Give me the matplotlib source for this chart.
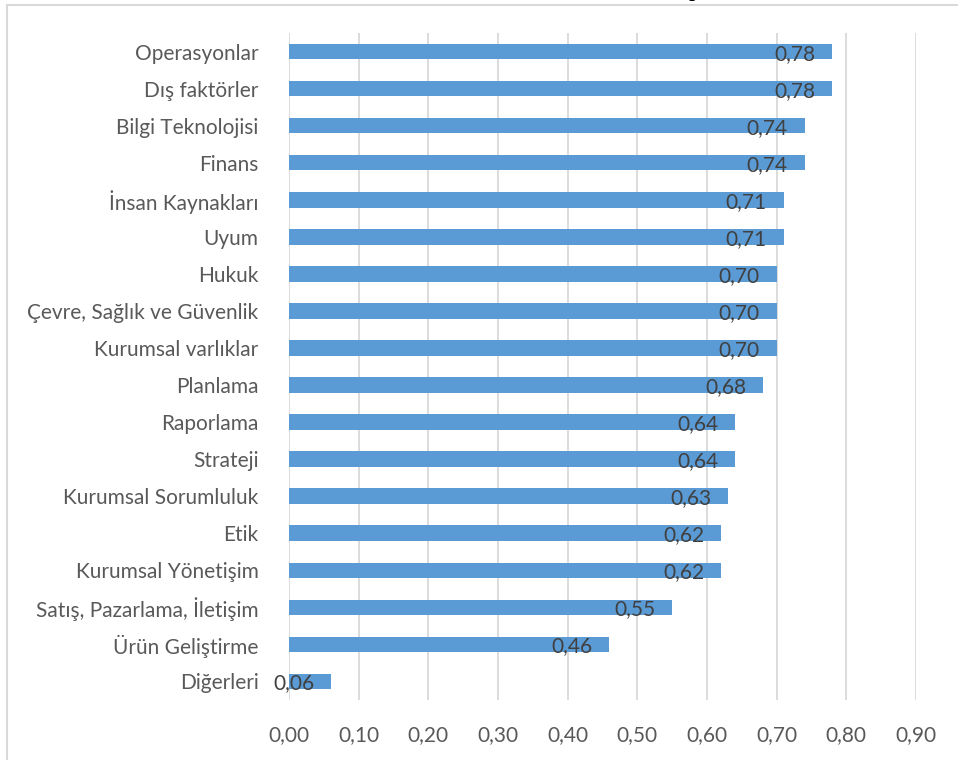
import numpy as np
import matplotlib
matplotlib.use("Agg")
import matplotlib.pyplot as plt
from matplotlib.patches import Rectangle

# Data (top to bottom as shown)
categories = ["Operasyonlar", "Dış faktörler", "Bilgi Teknolojisi", "Finans",
              "İnsan Kaynakları", "Uyum", "Hukuk", "Çevre, Sağlık ve Güvenlik",
              "Kurumsal varlıklar", "Planlama", "Raporlama", "Strateji",
              "Kurumsal Sorumluluk", "Etik", "Kurumsal Yönetişim",
              "Satış, Pazarlama, İletişim", "Ürün Geliştirme", "Diğerleri"]
values = [0.78, 0.78, 0.74, 0.74, 0.71, 0.71, 0.70, 0.70, 0.70, 0.68,
          0.64, 0.64, 0.63, 0.62, 0.62, 0.55, 0.46, 0.06]
xticks = [0.0, 0.1, 0.2, 0.3, 0.4, 0.5, 0.6, 0.7, 0.8, 0.9]

plt.rcParams['font.family'] = ['Lato', 'DejaVu Sans']

W, H = 958, 760
fig = plt.figure(figsize=(W/100, H/100), dpi=100)
fig.patch.set_facecolor('white')

# chart border (Excel chart area)
fig.patches.append(Rectangle((7/W, -0.05), 1.0, 1 - 5/H + 0.05, transform=fig.transFigure,
                             fill=False, edgecolor='#d9d9d9', linewidth=1.5))
# fragment of caption text above the chart (only its descender is visible)
fig.text(695/W, 1 + 2.5/H, "p", family='DejaVu Serif', fontsize=14, color='black',
         ha='center', va='baseline')

ax = fig.add_axes([289/W, 1 - 700/H, (916 - 289)/W, (700 - 33)/H])
y = np.arange(len(categories))
ax.barh(y, values, height=0.42, color='#5b9bd5', zorder=2)
ax.set_ylim(len(categories) - 0.5, -0.5)
ax.set_xlim(0, 0.9)
ax.set_yticks(y)
ax.set_yticklabels(categories)
ax.set_xticks(xticks)
ax.set_xticklabels([f"{v:.2f}".replace('.', ',') for v in xticks])
ax.tick_params(axis='y', length=0, pad=22, labelsize=15, labelcolor='#595959')
ax.tick_params(axis='x', length=0, pad=18, labelsize=15, labelcolor='#595959')
ax.grid(axis='x', color='#d9d9d9', linewidth=1.3, zorder=0)
for s in ax.spines.values():
    s.set_visible(False)

for yi, v in zip(y, values):
    ax.annotate(f"{v:.2f}".replace('.', ','), (v, yi), xytext=(-12, -1.5),
                textcoords='offset points', ha='right', va='center',
                fontsize=15, color='#404040', zorder=3)

fig.savefig("out.png", dpi=100, facecolor='white')
